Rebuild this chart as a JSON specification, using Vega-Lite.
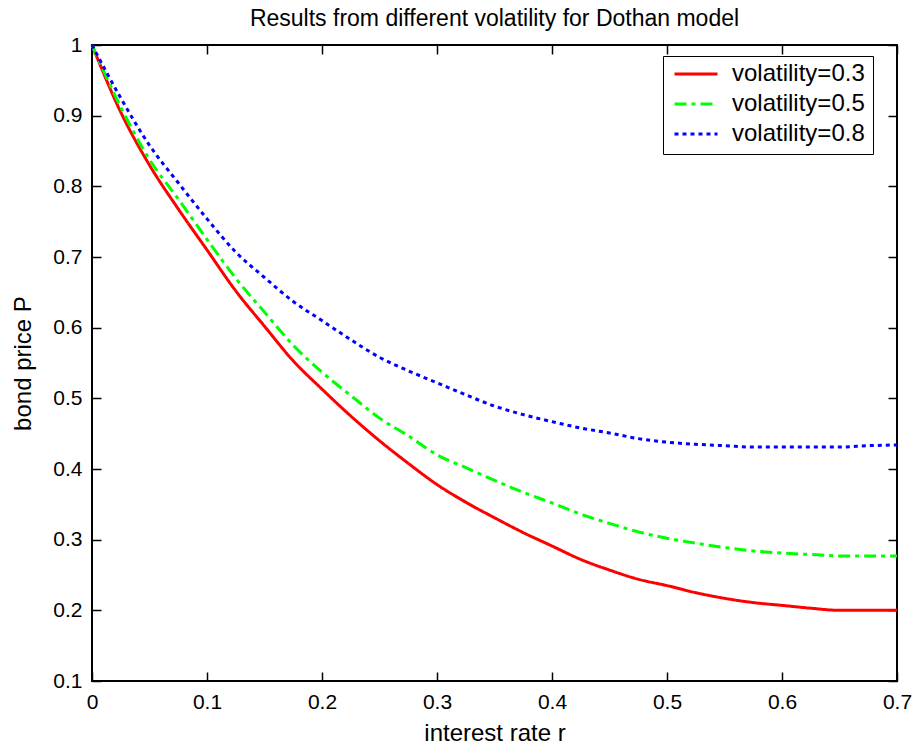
{
  "$schema": "https://vega.github.io/schema/vega-lite/v6.json",
  "width": 805,
  "height": 636,
  "autosize": {"type": "none"},
  "padding": {"left": 92, "top": 45, "right": 20, "bottom": 68},
  "background": "white",
  "title": {"text": "Results from different volatility for Dothan model", "fontSize": 23, "fontWeight": "normal", "color": "#000", "offset": 3, "anchor": "middle"},
  "datasets": {
    "curves": [
      {"r":0,"P":1.0,"s":"volatility=0.3"},{"r":0.025,"P":0.905,"s":"volatility=0.3"},{"r":0.05,"P":0.83,"s":"volatility=0.3"},{"r":0.075,"P":0.768,"s":"volatility=0.3"},{"r":0.1,"P":0.71,"s":"volatility=0.3"},{"r":0.125,"P":0.652,"s":"volatility=0.3"},{"r":0.15,"P":0.602,"s":"volatility=0.3"},{"r":0.175,"P":0.553,"s":"volatility=0.3"},{"r":0.2,"P":0.513,"s":"volatility=0.3"},{"r":0.225,"P":0.475,"s":"volatility=0.3"},{"r":0.25,"P":0.44,"s":"volatility=0.3"},{"r":0.275,"P":0.408,"s":"volatility=0.3"},{"r":0.3,"P":0.378,"s":"volatility=0.3"},{"r":0.325,"P":0.353,"s":"volatility=0.3"},{"r":0.35,"P":0.331,"s":"volatility=0.3"},{"r":0.375,"P":0.31,"s":"volatility=0.3"},{"r":0.4,"P":0.291,"s":"volatility=0.3"},{"r":0.425,"P":0.272,"s":"volatility=0.3"},{"r":0.45,"P":0.257,"s":"volatility=0.3"},{"r":0.475,"P":0.244,"s":"volatility=0.3"},{"r":0.5,"P":0.235,"s":"volatility=0.3"},{"r":0.525,"P":0.225,"s":"volatility=0.3"},{"r":0.55,"P":0.217,"s":"volatility=0.3"},{"r":0.575,"P":0.211,"s":"volatility=0.3"},{"r":0.6,"P":0.207,"s":"volatility=0.3"},{"r":0.625,"P":0.203,"s":"volatility=0.3"},{"r":0.65,"P":0.2,"s":"volatility=0.3"},{"r":0.675,"P":0.2,"s":"volatility=0.3"},{"r":0.7,"P":0.2,"s":"volatility=0.3"},
      {"r":0,"P":1.0,"s":"volatility=0.5"},{"r":0.025,"P":0.912,"s":"volatility=0.5"},{"r":0.05,"P":0.838,"s":"volatility=0.5"},{"r":0.075,"P":0.782,"s":"volatility=0.5"},{"r":0.1,"P":0.725,"s":"volatility=0.5"},{"r":0.125,"P":0.67,"s":"volatility=0.5"},{"r":0.15,"P":0.622,"s":"volatility=0.5"},{"r":0.175,"P":0.575,"s":"volatility=0.5"},{"r":0.2,"P":0.537,"s":"volatility=0.5"},{"r":0.225,"P":0.504,"s":"volatility=0.5"},{"r":0.25,"P":0.472,"s":"volatility=0.5"},{"r":0.275,"P":0.447,"s":"volatility=0.5"},{"r":0.3,"P":0.42,"s":"volatility=0.5"},{"r":0.325,"P":0.402,"s":"volatility=0.5"},{"r":0.35,"P":0.384,"s":"volatility=0.5"},{"r":0.375,"P":0.367,"s":"volatility=0.5"},{"r":0.4,"P":0.352,"s":"volatility=0.5"},{"r":0.425,"P":0.336,"s":"volatility=0.5"},{"r":0.45,"P":0.323,"s":"volatility=0.5"},{"r":0.475,"P":0.311,"s":"volatility=0.5"},{"r":0.5,"P":0.302,"s":"volatility=0.5"},{"r":0.525,"P":0.295,"s":"volatility=0.5"},{"r":0.55,"P":0.289,"s":"volatility=0.5"},{"r":0.575,"P":0.284,"s":"volatility=0.5"},{"r":0.6,"P":0.281,"s":"volatility=0.5"},{"r":0.625,"P":0.279,"s":"volatility=0.5"},{"r":0.65,"P":0.277,"s":"volatility=0.5"},{"r":0.675,"P":0.277,"s":"volatility=0.5"},{"r":0.7,"P":0.277,"s":"volatility=0.5"},
      {"r":0,"P":1.0,"s":"volatility=0.8"},{"r":0.025,"P":0.925,"s":"volatility=0.8"},{"r":0.05,"P":0.858,"s":"volatility=0.8"},{"r":0.075,"P":0.805,"s":"volatility=0.8"},{"r":0.1,"P":0.754,"s":"volatility=0.8"},{"r":0.125,"P":0.707,"s":"volatility=0.8"},{"r":0.15,"P":0.671,"s":"volatility=0.8"},{"r":0.175,"P":0.637,"s":"volatility=0.8"},{"r":0.2,"P":0.61,"s":"volatility=0.8"},{"r":0.225,"P":0.583,"s":"volatility=0.8"},{"r":0.25,"P":0.558,"s":"volatility=0.8"},{"r":0.275,"P":0.539,"s":"volatility=0.8"},{"r":0.3,"P":0.522,"s":"volatility=0.8"},{"r":0.325,"P":0.505,"s":"volatility=0.8"},{"r":0.35,"P":0.489,"s":"volatility=0.8"},{"r":0.375,"P":0.477,"s":"volatility=0.8"},{"r":0.4,"P":0.467,"s":"volatility=0.8"},{"r":0.425,"P":0.458,"s":"volatility=0.8"},{"r":0.45,"P":0.451,"s":"volatility=0.8"},{"r":0.475,"P":0.443,"s":"volatility=0.8"},{"r":0.5,"P":0.438,"s":"volatility=0.8"},{"r":0.525,"P":0.435,"s":"volatility=0.8"},{"r":0.55,"P":0.433,"s":"volatility=0.8"},{"r":0.575,"P":0.431,"s":"volatility=0.8"},{"r":0.6,"P":0.431,"s":"volatility=0.8"},{"r":0.625,"P":0.431,"s":"volatility=0.8"},{"r":0.65,"P":0.431,"s":"volatility=0.8"},{"r":0.675,"P":0.433,"s":"volatility=0.8"},{"r":0.7,"P":0.434,"s":"volatility=0.8"}
    ]
  },
  "data": {"name": "curves"},
  "layer": [
    {
      "mark": {"type": "line", "strokeWidth": 3, "interpolate": "monotone"},
      "encoding": {
        "x": {"field": "r", "type": "quantitative", "scale": {"domain": [0, 0.7], "nice": false},
          "axis": {"orient": "bottom", "values": [0,0.1,0.2,0.3,0.4,0.5,0.6,0.7], "format": "~g", "title": "interest rate r", "labelPadding": 19, "titlePadding": 9}},
        "y": {"field": "P", "type": "quantitative", "scale": {"domain": [0.1, 1], "nice": false, "zero": false},
          "axis": {"orient": "left", "values": [0.1,0.2,0.3,0.4,0.5,0.6,0.7,0.8,0.9,1], "format": "~g", "title": "bond price P", "labelPadding": 19, "titlePadding": 17}},
        "color": {"field": "s", "type": "nominal",
          "scale": {"domain": ["volatility=0.3","volatility=0.5","volatility=0.8"], "range": ["#ff0000","#00ff00","#0000ff"]},
          "legend": {"title": null, "orient": "none", "legendX": 571, "legendY": 11, "symbolType": "stroke", "symbolSize": 1849, "symbolStrokeWidth": 3, "clipHeight": 20, "rowPadding": 6, "padding": 8, "symbolOffset": 2, "labelOffset": 13, "labelFontSize": 24, "labelColor": "#000", "strokeColor": "#000", "fillColor": "#fff", "cornerRadius": 0, "labelLimit": 400}},
        "strokeDash": {"field": "s", "type": "nominal",
          "scale": {"domain": ["volatility=0.3","volatility=0.5","volatility=0.8"], "range": [[1,0],[12,5,4,5],[4,4]]},
          "legend": {"title": null, "orient": "none", "legendX": 571, "legendY": 11, "symbolType": "stroke", "symbolSize": 1849, "symbolStrokeWidth": 3, "clipHeight": 20, "rowPadding": 6, "padding": 8, "symbolOffset": 2, "labelOffset": 13, "labelFontSize": 24, "labelColor": "#000", "strokeColor": "#000", "fillColor": "#fff", "cornerRadius": 0, "labelLimit": 400}}
      }
    },
    {
      "mark": {"type": "line", "opacity": 0},
      "encoding": {
        "x": {"field": "r", "type": "quantitative", "scale": {"domain": [0, 0.7], "nice": false},
          "axis": {"orient": "top", "values": [0,0.1,0.2,0.3,0.4,0.5,0.6,0.7], "labels": false, "title": null}},
        "y": {"field": "P", "type": "quantitative", "scale": {"domain": [0.1, 1], "nice": false, "zero": false},
          "axis": {"orient": "right", "values": [0.1,0.2,0.3,0.4,0.5,0.6,0.7,0.8,0.9,1], "labels": false, "title": null}},
        "detail": {"field": "s"}
      }
    }
  ],
  "resolve": {"scale": {"x": "independent", "y": "independent"}},
  "config": {
    "font": "Liberation Sans",
    "view": {"stroke": "#000", "strokeWidth": 2},
    "axis": {"grid": false, "domain": false, "ticks": true, "tickColor": "#000", "tickSize": -9, "tickWidth": 1.5, "labelColor": "#000", "labelFontSize": 21, "labelFlush": false, "titleFontSize": 24, "titleFontWeight": "normal", "titleColor": "#000"}
  }
}
